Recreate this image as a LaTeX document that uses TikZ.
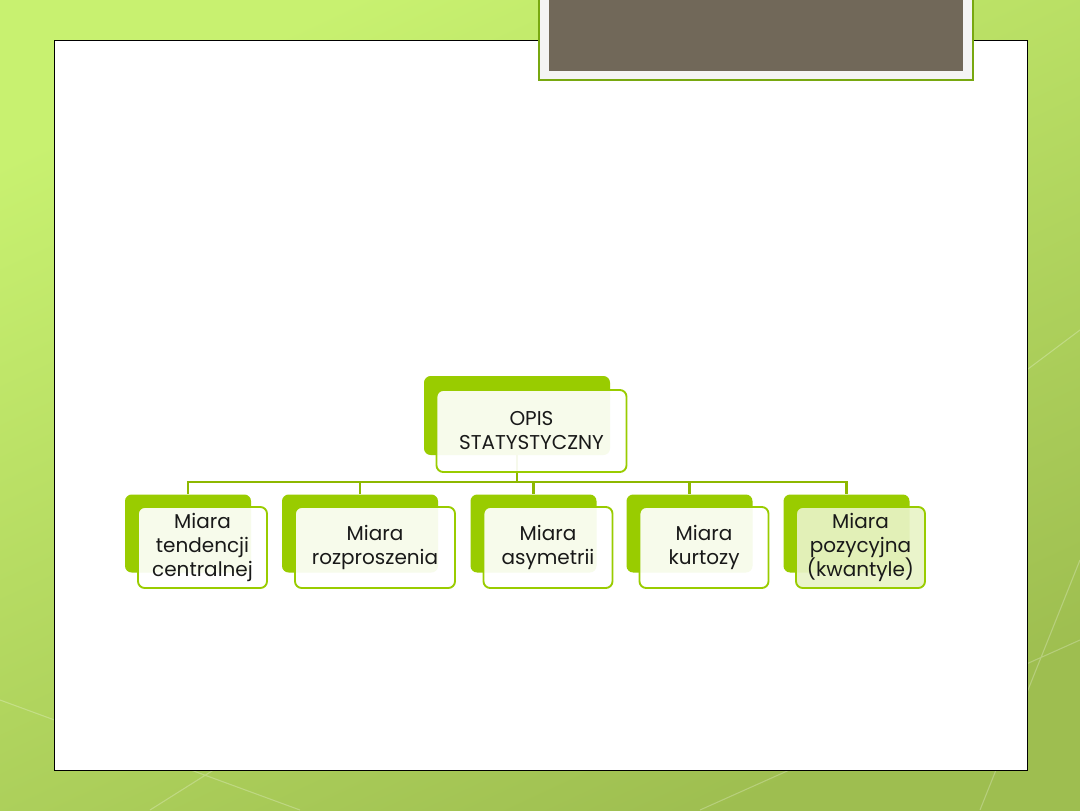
\documentclass[tikz,border=0pt]{standalone}
\usepackage{fontspec}
\setmainfont{Poppins}
\usetikzlibrary{positioning}

\definecolor{boxgreen}{HTML}{99CC00}
\definecolor{linkgreen}{HTML}{8DB800}
\definecolor{titlebrown}{HTML}{716859}
\definecolor{titlegrey}{HTML}{F4F4F4}
\definecolor{titleedge}{HTML}{78A810}
\definecolor{bglight}{HTML}{C8F170}
\definecolor{bgdark}{HTML}{9EBE50}

\begin{document}
\begin{tikzpicture}[
  x=0.75pt, y=-0.75pt,
  back/.style={fill=boxgreen, rounded corners=5pt, minimum width=94.5pt, minimum height=58.5pt, inner sep=0pt},
  front/.style={draw=boxgreen, line width=1.4pt, fill=white, fill opacity=0.92, text opacity=1,
    rounded corners=5pt, minimum width=96.75pt, minimum height=60.75pt, inner sep=0pt,
    align=center, font=\fontsize{15}{18}\selectfont, text=black!90},
  link/.style={draw=linkgreen, line width=1.6pt}
]
\useasboundingbox (0,0) rectangle (1080,810);

% Background
\shade[top color=bglight, bottom color=bgdark, shading angle=25] (0,0) rectangle (1080,810);
\draw[white, opacity=0.25, line width=0.8pt] (0,700) -- (300,810) (150,810) -- (420,640)
  (1080,330) -- (960,420) (1080,560) -- (980,810) (700,810) -- (1080,640);
\draw[black, line width=0.6pt, fill=white] (54,40) rectangle (1027,770);

% Title box
\draw[titleedge, line width=1.6pt, fill=titlegrey] (539,-5) rectangle (973,80);
\fill[titlebrown] (549,-5) rectangle (963,71);

% Back boxes
\node[back, minimum width=139.5pt, minimum height=59.25pt] (top) at (517,415.5) {};
\node[back] (b1) at (188,533.5) {};
\node[back, minimum width=117pt] (b2) at (360,533.5) {};
\node[back] (b3) at (533.5,533.5) {};
\node[back] (b4) at (689.5,533.5) {};
\node[back] (b5) at (846.5,533.5) {};

% Connectors
\foreach \c in {b1,b2,b3,b4,b5}
  \draw[link] (top.south) -- ++(0,27) -| (\c.north);

% Front boxes
\node[front, minimum width=142.5pt, minimum height=61.5pt] (topf) at (531.5,431) {OPIS\\STATYSTYCZNY};
\node[front] (f1) at (202.5,547.5) {Miara\\tendencji\\centralnej};
\node[front, minimum width=120pt] (f2) at (375,547.5) {Miara\\rozproszenia};
\node[front] (f3) at (548,547.5) {Miara\\asymetrii};
\node[front] (f4) at (704,547.5) {Miara\\kurtozy};
\node[front, fill=boxgreen!22] (f5) at (860.5,547.5) {Miara\\pozycyjna\\(kwantyle)};

\end{tikzpicture}
\end{document}
